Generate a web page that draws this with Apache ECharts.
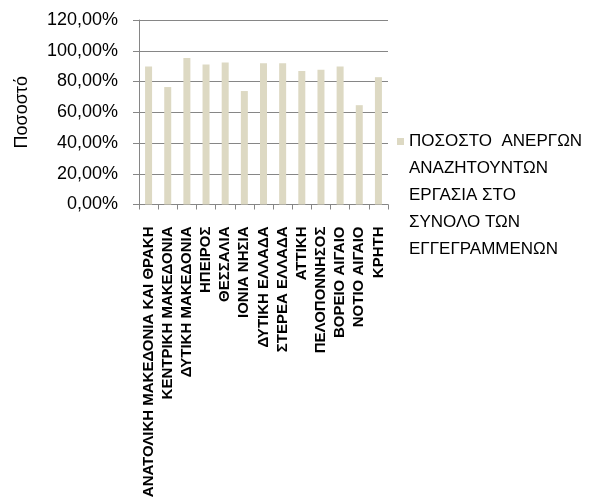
<!DOCTYPE html>
<html>
<head>
<meta charset="utf-8">
<script src="https://cdn.jsdelivr.net/npm/echarts@6/dist/echarts.min.js"></script>
<style>html,body{margin:0;padding:0;background:#fff}#c{width:589px;height:504px}</style>
</head>
<body>
<div id="c"></div>
<script>
const categories = ['ΑΝΑΤΟΛΙΚΗ ΜΑΚΕΔΟΝΙΑ ΚΑΙ ΘΡΑΚΗ','ΚΕΝΤΡΙΚΗ ΜΑΚΕΔΟΝΙΑ','ΔΥΤΙΚΗ ΜΑΚΕΔΟΝΙΑ','ΗΠΕΙΡΟΣ','ΘΕΣΣΑΛΙΑ','ΙΟΝΙΑ ΝΗΣΙΑ','ΔΥΤΙΚΗ ΕΛΛΑΔΑ','ΣΤΕΡΕΑ ΕΛΛΑΔΑ','ΑΤΤΙΚΗ','ΠΕΛΟΠΟΝΝΗΣΟΣ','ΒΟΡΕΙΟ ΑΙΓΑΙΟ','ΝΟΤΙΟ ΑΙΓΑΙΟ','ΚΡΗΤΗ'];
const values = [89.7, 76.4, 95.3, 91.0, 92.4, 73.8, 91.9, 91.9, 86.8, 87.6, 89.8, 64.6, 82.8];
const seriesName = 'ΠΟΣΟΣΤΟ  ΑΝΕΡΓΩΝ\nΑΝΑΖΗΤΟΥΝΤΩΝ\nΕΡΓΑΣΙΑ ΣΤΟ\nΣΥΝΟΛΟ ΤΩΝ\nΕΓΓΕΓΡΑΜΜΕΝΩΝ';
const yAxisName = 'Ποσοστό';

const font = 'Liberation Sans, Arial, sans-serif';
const chart = echarts.init(document.getElementById('c'), null, {renderer: 'canvas'});
chart.setOption({
  animation: false,
  backgroundColor: '#fff',
  textStyle: {fontFamily: font},
  grid: {left: 139, right: 201, top: 20, bottom: 299.5, containLabel: false, outerBoundsMode: 'none'},
  legend: {
    show: true,
    left: 397,
    top: 20,
    padding: 0,
    itemWidth: 7,
    itemHeight: 7,
    icon: 'rect',
    formatter: name => '\n\n\n\n' + name,
    textStyle: {fontFamily: font, fontSize: 17, color: '#000', lineHeight: 27},
    data: [seriesName]
  },
  xAxis: {
    type: 'category',
    data: categories,
    axisLine: {show: true, lineStyle: {color: '#868686', width: 1}},
    axisTick: {show: true, length: 5, lineStyle: {color: '#868686'}},
    axisLabel: {interval: 0, rotate: 90, margin: 22, fontSize: 15, fontWeight: 'bold', color: '#000', fontFamily: font}
  },
  yAxis: {
    type: 'value',
    min: 0, max: 120, interval: 20,
    name: yAxisName,
    nameLocation: 'middle',
    nameRotate: 90,
    nameGap: 108,
    nameTextStyle: {fontSize: 18, color: '#000', fontFamily: font},
    axisLine: {show: true, lineStyle: {color: '#868686', width: 1}},
    axisTick: {show: true, length: 6, lineStyle: {color: '#868686'}},
    splitLine: {show: true, lineStyle: {color: '#868686', width: 1}},
    axisLabel: {margin: 21, fontSize: 18, color: '#000', fontFamily: font,
      formatter: v => v.toFixed(2).replace('.', ',') + '%'}
  },
  series: [{
    name: seriesName,
    type: 'bar',
    data: values,
    barWidth: 7,
    itemStyle: {color: '#DDD9C3'}
  }]
});
</script>
</body>
</html>
